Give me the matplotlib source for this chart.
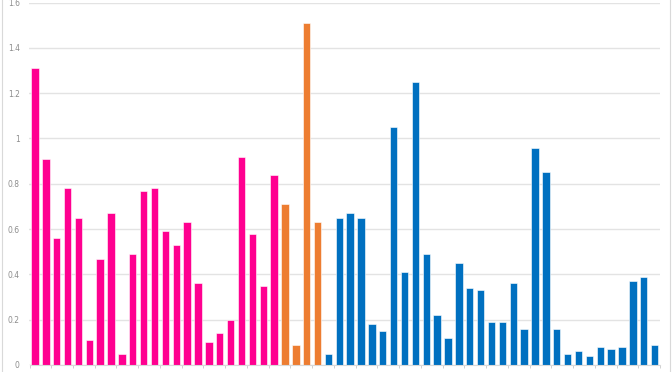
import matplotlib
matplotlib.use("Agg")
import matplotlib.pyplot as plt
from matplotlib.lines import Line2D
import numpy as np

# ── Data ───────────────────────────────────────────────────────────────────────
pink_vals = [1.31, 0.91, 0.56, 0.78, 0.65, 0.11, 0.47, 0.67, 0.05, 0.49, 0.77, 0.78,
             0.59, 0.53, 0.63, 0.36, 0.10, 0.14, 0.20, 0.92, 0.58, 0.35, 0.84]
orange_vals = [0.71, 0.09, 1.51, 0.63]
blue_vals = [0.05, 0.65, 0.67, 0.65, 0.18, 0.15, 1.05, 0.41, 1.25, 0.49, 0.22, 0.12,
             0.45, 0.34, 0.33, 0.19, 0.19, 0.36, 0.16, 0.96, 0.85, 0.16, 0.05, 0.06,
             0.04, 0.08, 0.07, 0.08, 0.37, 0.39, 0.09]
y_ticks = [0, 0.2, 0.4, 0.6, 0.8, 1.0, 1.2, 1.4, 1.6]
y_labels = ["0", "0.2", "0.4", "0.6", "0.8", "1", "1.2", "1.4", "1.6"]

PINK = "#FF0090"
ORANGE = "#ED7D31"
BLUE = "#0070C0"
GRID = "#E3E3E3"
LABEL = "#8C8C8C"

values = pink_vals + orange_vals + blue_vals
colors = [PINK] * len(pink_vals) + [ORANGE] * len(orange_vals) + [BLUE] * len(blue_vals)
x = np.arange(len(values))

# ── Figure ─────────────────────────────────────────────────────────────────────
fig = plt.figure(figsize=(6.72, 3.72), dpi=100)
fig.patch.set_facecolor("white")
ax = fig.add_axes([29.5 / 672, 7 / 372, 630.5 / 672, 362.5 / 372])

ax.bar(x, values, width=0.68, color=colors, edgecolor="white", linewidth=0.4, zorder=3)

ax.set_xlim(-0.5, len(values) - 0.5)
ax.set_ylim(0, 1.6)
ax.set_yticks(y_ticks)
ax.set_yticklabels(y_labels, fontsize=5.5, color=LABEL)
ax.tick_params(axis="y", length=0, pad=7)
ax.yaxis.grid(True, color=GRID, linewidth=1.0, zorder=0)

ax.set_xticks(np.arange(-0.5, len(values), 2))
ax.set_xticklabels([])
ax.tick_params(axis="x", length=2.5, width=0.7, color="#D0D0D0", direction="out")

for side in ["top", "right", "left"]:
    ax.spines[side].set_visible(False)
ax.spines["bottom"].set_color("#D9D9D9")
ax.spines["bottom"].set_linewidth(0.8)
ax.spines["bottom"].set_zorder(4)

# chart border, cropped at top and bottom
fig.add_artist(Line2D([1.5 / 672, 1.5 / 672], [0, 1], color="#D9D9D9", linewidth=0.8))
fig.add_artist(Line2D([670 / 672, 670 / 672], [0, 1], color="#D9D9D9", linewidth=0.8))

plt.savefig("out.png", dpi=100, facecolor="white")
plt.close()
